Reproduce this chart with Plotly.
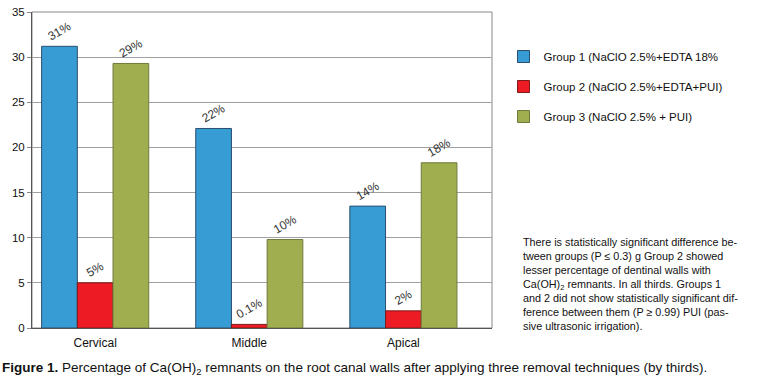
import plotly.graph_objects as go

categories = ["Cervical", "Middle", "Apical"]
group1 = [31.2, 22.1, 13.5]
group2 = [5.0, 0.4, 1.9]
group3 = [29.3, 9.8, 18.3]
labels1 = ["31%", "22%", "14%"]
labels2 = ["5%", "0.1%", "2%"]
labels3 = ["29%", "10%", "18%"]
names = ["Group 1 (NaClO 2.5%+EDTA 18%", "Group 2 (NaClO 2.5%+EDTA+PUI)", "Group 3 (NaClO 2.5% + PUI)"]
y_ticks = [0, 5, 10, 15, 20, 25, 30, 35]
note_lines = [
    "There is statistically significant difference be-",
    "tween groups (P ≤ 0.3) g Group 2 showed",
    "lesser percentage of dentinal walls with",
    "Ca(OH)<sub>2</sub> remnants. In all thirds. Groups 1",
    "and 2 did not show statistically significant dif-",
    "ference between them (P ≥ 0.99) PUI (pas-",
    "sive ultrasonic irrigation).",
]

colors = ["#369CD3", "#ED1C24", "#A0AE50"]
lines = ["#2A4E6E", "#7A1A1A", "#6E7A3A"]
FONT = "Liberation Sans, Arial, sans-serif"

fig = go.Figure()
for i, (vals, labs) in enumerate([(group1, labels1), (group2, labels2), (group3, labels3)]):
    fig.add_trace(go.Bar(
        x=categories, y=vals, name=names[i], text=labs,
        textposition="outside", textangle=-30,
        textfont=dict(family=FONT, size=12, color="#333"),
        marker=dict(color=colors[i], line=dict(color=lines[i], width=1)),
        cliponaxis=False, legendgroup=f"g{i}",
    ))

fig.update_layout(
    width=757, height=389,
    margin=dict(l=32, r=265, t=6, b=61),
    paper_bgcolor="white", plot_bgcolor="white",
    barmode="group", bargap=0.305, bargroupgap=0,
    font=dict(family=FONT, size=11.5, color="#111"),
    showlegend=True,
    legend=dict(x=1.025, y=0.905, xanchor="left", yanchor="top",
                font=dict(size=11.5, color="#111"), tracegroupgap=11,
                bgcolor="rgba(0,0,0,0)"),
    xaxis=dict(range=[-0.41, 2.575], showline=True, linecolor="#555", linewidth=1,
               mirror=False, ticks="", tickfont=dict(size=12), ticklabelstandoff=4),
    yaxis=dict(range=[0, 35], tickvals=y_ticks, showgrid=True, gridcolor="#A0A0A0",
               gridwidth=1, showline=True, linecolor="#555", linewidth=1,
               ticks="outside", ticklen=4, tickcolor="#888", tickfont=dict(size=11.5),
               zeroline=False),
)

fig.add_shape(type="rect", xref="paper", yref="paper", x0=0, x1=1, y0=0, y1=1,
              line=dict(color="#888", width=1), layer="below")

plot_top, plot_h = 6, 322
fig.add_annotation(xref="paper", yref="paper", x=1.063, y=(plot_top + plot_h - 232) / plot_h,
                   xanchor="left", yanchor="top", text="<br>".join(note_lines),
                   showarrow=False, align="left",
                   font=dict(size=10.8, color="#111", family=FONT))

caption = ("<b>Figure 1.</b> Percentage of Ca(OH)<sub>2</sub> remnants on the root canal walls "
           "after applying three removal techniques (by thirds).")
fig.add_annotation(xref="paper", yref="paper", x=-0.0696, y=-0.127, xanchor="left", yanchor="middle",
                   text=caption, showarrow=False, align="left",
                   font=dict(size=13.5, color="#111", family=FONT))

fig.write_html("out.html")
